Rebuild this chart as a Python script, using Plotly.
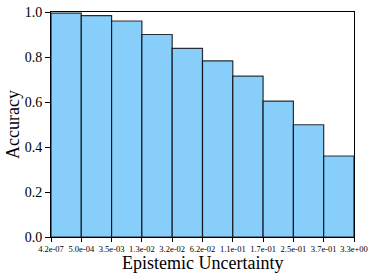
import plotly.graph_objects as go

bin_labels = ["4.2e-07", "5.0e-04", "3.5e-03", "1.3e-02", "3.2e-02", "6.2e-02",
              "1.1e-01", "1.7e-01", "2.5e-01", "3.7e-01", "3.3e+00"]
accuracy = [0.995, 0.984, 0.960, 0.900, 0.838, 0.783, 0.715, 0.604, 0.499, 0.360]
y_ticks = ["0.0", "0.2", "0.4", "0.6", "0.8", "1.0"]

centers = [i + 0.5 for i in range(len(accuracy))]
edges = list(range(len(bin_labels)))
y_vals = [i * 0.2 for i in range(len(y_ticks))]

FF = "Liberation Serif"

fig = go.Figure(go.Bar(
    x=centers, y=accuracy, width=1.0,
    marker=dict(color="#87CEFA", line=dict(color="rgba(0,0,0,0.8)", width=1.2)),
    showlegend=False, hoverinfo="skip",
))

fig.update_layout(
    width=374, height=278,
    margin=dict(l=51, r=20, t=12, b=41, autoexpand=False),
    paper_bgcolor="white", plot_bgcolor="white",
    font=dict(family=FF, color="black"),
    bargap=0,
    annotations=[
        dict(text="Epistemic Uncertainty", x=0.5, xref="paper", y=-0.06, yref="paper",
             xanchor="center", yanchor="top", showarrow=False,
             font=dict(family=FF, size=18, color="black")),
        dict(text="Accuracy", x=-0.127, xref="paper", y=0.5, yref="paper",
             xanchor="center", yanchor="middle", textangle=-90, showarrow=False,
             font=dict(family=FF, size=18, color="black")),
    ],
)
fig.update_xaxes(
    range=[0, 10], tickvals=edges, ticktext=bin_labels, automargin=False,
    tickfont=dict(family=FF, size=8.5, color="black"), ticks="outside", ticklen=4, tickcolor="black",
    showline=True, linecolor="black", linewidth=1, mirror=True,
    showgrid=False, zeroline=False,
)
fig.update_yaxes(
    range=[0, 1.0], tickvals=y_vals, ticktext=y_ticks, automargin=False,
    tickfont=dict(family=FF, size=14, color="black"), ticks="outside", ticklen=5, tickcolor="black",
    showline=True, linecolor="black", linewidth=1, mirror=True,
    showgrid=False, zeroline=False,
)

fig.write_html("out.html", config={"displayModeBar": False, "staticPlot": True},
               post_script="document.body.style.margin='0';document.body.style.overflow='hidden';")
